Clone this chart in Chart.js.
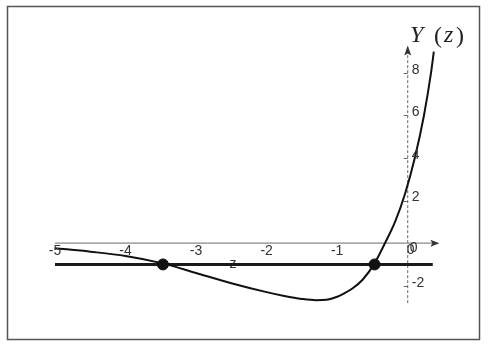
<!DOCTYPE html>
<html>
<head>
<meta charset="utf-8">
<script src="https://cdn.jsdelivr.net/npm/chart.js@4/dist/chart.umd.min.js"></script>
<style>
  body { margin: 0; background: #fff; }
  canvas { display: block; }
</style>
</head>
<body>
<canvas id="yChart" width="490" height="346"></canvas>
<script>
// curve Y(z)
var zValues = [-5, -4.5, -4, -3.47, -3, -2.5, -2, -1.75, -1.5, -1.3, -1.15, -1.0, -0.9, -0.78, -0.64, -0.47, -0.33, -0.18, -0.04, 0.1, 0.23, 0.33, 0.37];
var yValues = [-0.24, -0.4, -0.6, -0.95, -1.4, -1.88, -2.3, -2.48, -2.62, -2.68, -2.66, -2.52, -2.36, -2.12, -1.72, -0.95, -0.05, 1.0, 2.3, 4.0, 6.0, 8.0, 9.0];

// intersections with the level line
var dotZ = [-3.47, -0.47];
var dotY = [-1, -1];

// horizontal level line Y = -1
var levelZ = [-5, 0.355];
var levelY = -1;

// axes
var xAxisZ = [-5, 0.42];
var yAxisY = [-2.82, 9.2];
var xTickValues = [-5, -4, -3, -2, -1];
var xTickLabels = ['-5', '-4', '-3', '-2', '-1'];
var yTickValues = [8, 6, 4, 2, -2];
var yTickLabels = ['8', '6', '4', '2', '-2'];

function pts(xs, ys) {
    return xs.map(function(x, i) { return { x: x, y: ys[i] }; });
}

var decorations = {
    id: 'decorations',
    beforeDraw: function(chart) {
        var c = chart.ctx;
        c.save();
        c.fillStyle = '#fff';
        c.fillRect(0, 0, chart.width, chart.height);
        c.strokeStyle = '#555';
        c.lineWidth = 1.5;
        c.strokeRect(7.5, 6.5, 472, 333);
        c.restore();
    },
    beforeDatasetsDraw: function(chart) {
        var c = chart.ctx;
        c.save();
        c.fillStyle = '#333';
        c.font = '14px "Liberation Sans", Arial, sans-serif';
        c.textAlign = 'center';
        c.textBaseline = 'alphabetic';
        c.fillText('z', 233, 268);
        c.restore();
    },
    afterDatasetsDraw: function(chart) {
        var c = chart.ctx;
        var xs = chart.scales.x, ys = chart.scales.y;
        var x0 = xs.getPixelForValue(0), y0 = ys.getPixelForValue(0);
        c.save();
        c.fillStyle = '#333';
        c.strokeStyle = '#666';
        c.lineWidth = 1;

        // arrowheads
        var ax = xs.getPixelForValue(xAxisZ[1]);
        c.beginPath();
        c.moveTo(ax + 2, y0);
        c.lineTo(ax - 7, y0 - 3.5);
        c.lineTo(ax - 5, y0);
        c.lineTo(ax - 7, y0 + 3.5);
        c.closePath();
        c.fill();
        var ay = ys.getPixelForValue(yAxisY[1]);
        c.beginPath();
        c.moveTo(x0, ay - 2);
        c.lineTo(x0 - 3.5, ay + 8);
        c.lineTo(x0, ay + 6);
        c.lineTo(x0 + 3.5, ay + 8);
        c.closePath();
        c.fill();

        // y tick marks
        yTickValues.forEach(function(v) {
            var py = Math.round(ys.getPixelForValue(v)) + 0.5;
            c.beginPath();
            c.moveTo(x0 - 4, py);
            c.lineTo(x0, py);
            c.stroke();
        });

        c.font = '14px "Liberation Sans", Arial, sans-serif';
        c.textBaseline = 'middle';
        c.textAlign = 'center';
        xTickValues.forEach(function(v, i) {
            c.fillText(xTickLabels[i], xs.getPixelForValue(v), y0 + 8);
        });
        // the two overlapping zeros at the origin
        c.fillText('0', x0 + 3, y0 + 7);
        c.fillText('0', x0 + 6, y0 + 5);

        c.textAlign = 'left';
        yTickValues.forEach(function(v, i) {
            c.fillText(yTickLabels[i], x0 + 4, ys.getPixelForValue(v) - 3);
        });

        // title Y(z)
        c.fillStyle = '#222';
        c.textBaseline = 'alphabetic';
        c.font = 'italic 24px "Liberation Serif", "DejaVu Serif", serif';
        c.fillText('Y', 410, 42);
        c.fillText('z', 444, 42);
        c.font = '24px "Liberation Serif", "DejaVu Serif", serif';
        c.fillText('(', 434, 43);
        c.fillText(')', 456, 43);
        c.restore();
    }
};

var ctx = document.getElementById('yChart').getContext('2d');
var yChart = new Chart(ctx, {
    type: 'scatter',
    data: {
        datasets: [
            {
                label: 'roots',
                data: pts(dotZ, dotY),
                backgroundColor: '#111',
                borderColor: '#111',
                pointRadius: 5.5,
                showLine: false
            },
            {
                label: 'Y(z)',
                data: pts(zValues, yValues),
                borderColor: '#111',
                borderWidth: 2,
                pointRadius: 0,
                showLine: true,
                cubicInterpolationMode: 'monotone'
            },
            {
                label: 'level',
                data: pts(levelZ, [levelY, levelY]),
                borderColor: '#1a1a1a',
                borderWidth: 3,
                pointRadius: 0,
                showLine: true
            },
            {
                label: 'z axis',
                data: pts(xAxisZ, [0, 0]),
                borderColor: '#888',
                borderWidth: 1.2,
                pointRadius: 0,
                showLine: true
            },
            {
                label: 'Y axis',
                data: pts([0, 0], yAxisY),
                borderColor: '#666',
                borderWidth: 1,
                borderDash: [3, 2],
                pointRadius: 0,
                showLine: true
            }
        ]
    },
    options: {
        responsive: false,
        animation: false,
        layout: {
            padding: { left: 55, right: 47, top: 41, bottom: 39 }
        },
        plugins: {
            legend: { display: false },
            tooltip: { enabled: false }
        },
        scales: {
            x: { type: 'linear', min: -5, max: 0.5, display: false },
            y: { type: 'linear', min: -3, max: 9.5, display: false }
        }
    },
    plugins: [decorations]
});
</script>
</body>
</html>
